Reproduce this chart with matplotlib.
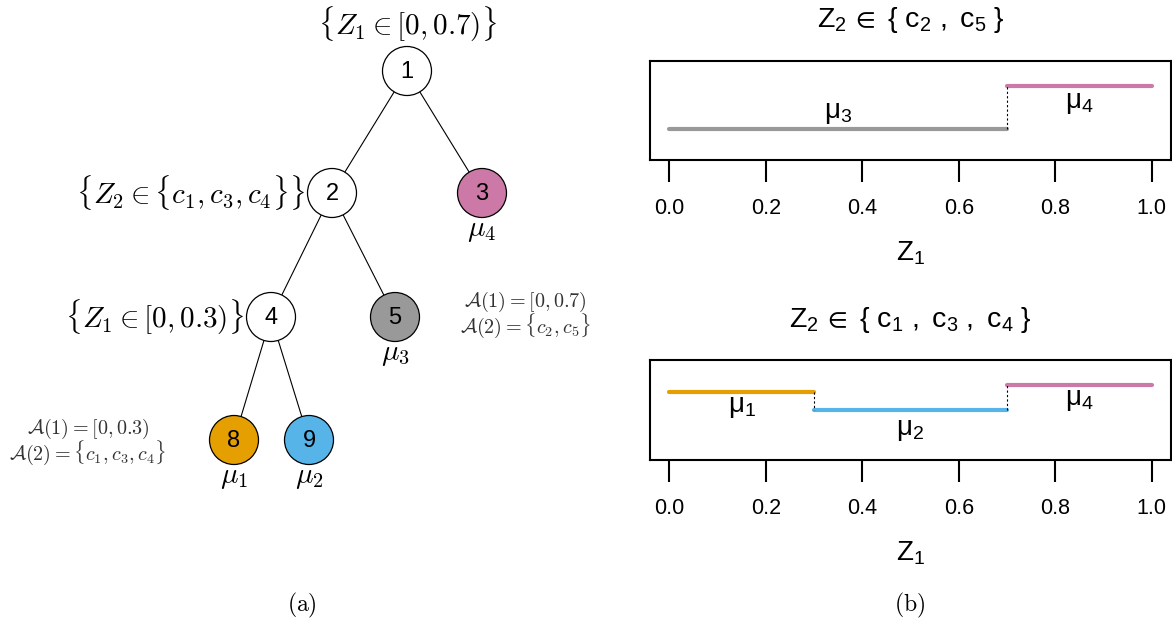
import matplotlib
matplotlib.use('Agg')
import matplotlib.pyplot as plt
from matplotlib.patches import Ellipse

plt.rcParams['font.family'] = ['Liberation Sans', 'DejaVu Sans']
plt.rcParams['mathtext.fontset'] = 'custom'
plt.rcParams['mathtext.rm'] = 'Liberation Sans'
plt.rcParams['mathtext.it'] = 'Liberation Sans:italic'

# --- tree (a) ---
node_ids = [1, 2, 3, 4, 5, 8, 9]
node_colors = ['white', 'white', '#CC79A7', 'white', '#999999', '#E69F00', '#56B4E9']
edges = [(1, 2), (1, 3), (2, 4), (2, 5), (4, 8), (4, 9)]
split_text = {1: r'$\{Z_1 \in [0, 0.7)\}$',
              2: r'$\{Z_2 \in \{c_1, c_3, c_4\}\}$',
              4: r'$\{Z_1 \in [0, 0.3)\}$'}
leaf_text = {3: r'$\mu_4$', 5: r'$\mu_3$', 8: r'$\mu_1$', 9: r'$\mu_2$'}
region_text = {5: [r'$\mathcal{A}(1) = [0, 0.7)$', r'$\mathcal{A}(2) = \{c_2, c_5\}$'],
               8: [r'$\mathcal{A}(1) = [0, 0.3)$', r'$\mathcal{A}(2) = \{c_1, c_3, c_4\}$']}

# node layout in pixels of the figure
layout = {1: (407, 71), 2: (332, 193), 3: (482, 193), 4: (271, 317),
          5: (395, 317), 8: (234, 440), 9: (309, 440)}

# --- step functions (b) ---
z1_ticks = [0.0, 0.2, 0.4, 0.6, 0.8, 1.0]
top_breaks = [0.0, 0.7, 1.0]
top_mu = [0.31, 0.745]
top_names = [r'$\mathregular{\mu_3}$', r'$\mathregular{\mu_4}$']
top_colors = ['#999999', '#CC79A7']
bot_breaks = [0.0, 0.3, 0.7, 1.0]
bot_mu = [0.68, 0.50, 0.745]
bot_names = [r'$\mathregular{\mu_1}$', r'$\mathregular{\mu_2}$', r'$\mathregular{\mu_4}$']
bot_colors = ['#E69F00', '#56B4E9', '#CC79A7']

W, H = 1172, 626
fig = plt.figure(figsize=(W / 100, H / 100), dpi=100)

ax = fig.add_axes([0, 0, 1, 1])
ax.set_xlim(0, W)
ax.set_ylim(H, 0)
ax.axis('off')

r = 24.5
for a, b in edges:
    (x0, y0), (x1, y1) = layout[a], layout[b]
    ax.plot([x0, x1], [y0, y1], color='black', lw=0.8, zorder=1)

for nid, col in zip(node_ids, node_colors):
    x, y = layout[nid]
    ax.add_patch(Ellipse((x, y), 2 * r, 2 * r, facecolor=col, edgecolor='black', lw=0.9, zorder=2))
    ax.text(x, y + 1, str(nid), ha='center', va='center', fontsize=17, zorder=3)

tree_kw = dict(fontsize=21, math_fontfamily='cm')
x, y = layout[1]
ax.text(x, y - 47, split_text[1], ha='center', va='center', **tree_kw)
x, y = layout[2]
ax.text(x - 27, y, split_text[2], ha='right', va='center', **tree_kw)
x, y = layout[4]
ax.text(x - 27, y, split_text[4], ha='right', va='center', **tree_kw)

for nid, s in leaf_text.items():
    x, y = layout[nid]
    ax.text(x, y + 37, s, ha='center', va='center', fontsize=21, math_fontfamily='cm')

note_kw = dict(ha='center', va='center', fontsize=14.5, math_fontfamily='cm', color='#333333')
ax.text(525, 302, region_text[5][0], **note_kw)
ax.text(525, 326, region_text[5][1], **note_kw)
ax.text(88, 429, region_text[8][0], **note_kw)
ax.text(88, 453, region_text[8][1], **note_kw)

ax.text(302, 605, r'$\mathrm{(a)}$', ha='center', va='center', fontsize=17, math_fontfamily='cm')
ax.text(910, 605, r'$\mathrm{(b)}$', ha='center', va='center', fontsize=17, math_fontfamily='cm')


def step_panel(rect, breaks, mu, names, colors, label_dy, title):
    p = fig.add_axes(rect)
    for i in range(len(mu)):
        p.plot([breaks[i], breaks[i + 1]], [mu[i], mu[i]], color=colors[i], lw=3,
               solid_capstyle='round')
        p.text((breaks[i] + breaks[i + 1]) / 2, mu[i] + label_dy[i], names[i],
               ha='center', va='center', fontsize=20)
    for i in range(1, len(mu)):
        p.plot([breaks[i], breaks[i]], [mu[i - 1], mu[i]], color='black', lw=0.8,
               ls=(0, (2, 2)))
    p.set_xlim(-0.04, 1.04)
    p.set_ylim(0, 1)
    p.set_yticks([])
    p.set_xticks(z1_ticks)
    p.set_xticklabels([f'{t:.1f}' for t in z1_ticks])
    p.tick_params(axis='x', length=15.5, width=1.5, pad=12, labelsize=15.5)
    for s in p.spines.values():
        s.set_linewidth(1.5)
    p.set_xlabel(r'$\mathregular{Z_1}$', fontsize=20, labelpad=15)
    p.set_title(title, fontsize=20.5, pad=24)
    return p


step_panel([650 / W, 1 - 159.5 / H, 521 / W, 99 / H], top_breaks, top_mu, top_names,
           top_colors, [0.16, -0.175],
           r'$\mathregular{Z_2\,\in\ \{\ c_2\ ,\ c_5\ \}}$')
step_panel([650 / W, 1 - 459.5 / H, 521 / W, 99.5 / H], bot_breaks, bot_mu, bot_names,
           bot_colors, [-0.15, -0.2, -0.15],
           r'$\mathregular{Z_2\,\in\ \{\ c_1\ ,\ c_3\ ,\ c_4\ \}}$')

fig.savefig('out.png', dpi=100)
